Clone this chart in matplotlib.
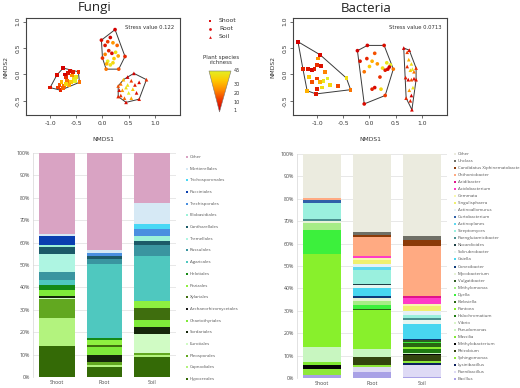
import matplotlib
matplotlib.use('Agg')
import matplotlib.pyplot as plt
import numpy as np
from matplotlib.colors import LinearSegmentedColormap
from matplotlib.patches import Polygon

# ---- NMDS data: (NMDS1, NMDS2, plant species richness) per sample ----
fungi_shoot = [(-1.0, -0.25, 5), (-0.87, -0.01, 3), (-0.75, 0.12, 1), (-0.46, 0.05, 10), (-0.44, -0.15, 20),
               (-0.80, -0.30, 8), (-0.82, -0.20, 15), (-0.78, -0.15, 30), (-0.74, -0.22, 20), (-0.70, -0.05, 10),
               (-0.66, 0.03, 5), (-0.62, 0.06, 3), (-0.58, -0.02, 25), (-0.55, -0.08, 40), (-0.52, -0.12, 45),
               (-0.60, -0.15, 35), (-0.68, -0.12, 20), (-0.72, 0.0, 1), (-0.85, -0.25, 12), (-0.64, -0.20, 28),
               (-0.50, -0.05, 42), (-0.56, 0.04, 6), (-0.76, -0.26, 18), (-0.70, -0.18, 38)]
fungi_root = [(-0.02, 0.65, 3), (0.24, 0.85, 1), (0.43, 0.34, 8), (0.31, 0.10, 15), (0.07, 0.10, 20),
              (0.0, 0.31, 10), (0.05, 0.55, 5), (0.10, 0.62, 12), (0.15, 0.70, 2), (0.20, 0.60, 25),
              (0.12, 0.45, 8), (0.18, 0.40, 3), (0.25, 0.42, 40), (0.22, 0.30, 35), (0.10, 0.25, 45),
              (0.08, 0.20, 30), (0.15, 0.18, 42), (0.28, 0.55, 18), (0.05, 0.38, 22), (0.20, 0.22, 38),
              (0.30, 0.35, 28)]
fungi_soil = [(0.60, 0.02, 1), (0.84, -0.10, 10), (0.70, -0.47, 5), (0.45, -0.53, 3), (0.30, -0.42, 8),
              (0.30, -0.22, 15), (0.35, -0.18, 20), (0.40, -0.10, 30), (0.48, -0.05, 1), (0.55, -0.12, 12),
              (0.62, -0.20, 6), (0.70, -0.15, 2), (0.45, -0.25, 40), (0.38, -0.30, 25), (0.50, -0.35, 45),
              (0.58, -0.28, 35), (0.35, -0.40, 10), (0.42, -0.45, 18), (0.65, -0.35, 4), (0.55, -0.45, 28),
              (0.48, -0.20, 42), (0.32, -0.30, 3)]

bact_shoot = [(-1.365, 0.62, 1), (-0.94, 0.37, 3), (-0.44, -0.07, 40), (-0.36, -0.29, 20), (-1.02, -0.37, 5),
              (-1.19, -0.31, 30), (-1.27, 0.10, 8), (-1.10, 0.08, 2), (-1.05, 0.10, 6), (-1.00, 0.18, 10),
              (-0.92, 0.16, 4), (-0.98, 0.30, 25), (-1.15, -0.05, 35), (-1.10, -0.15, 15), (-1.00, -0.08, 12),
              (-0.95, -0.15, 30), (-0.88, -0.12, 42), (-0.80, -0.08, 45), (-0.75, -0.20, 38), (-0.60, -0.22, 14),
              (-1.00, -0.28, 7), (-0.90, -0.25, 40), (-1.18, 0.10, 5), (-0.85, 0.05, 22)]
bact_root = [(-0.23, 0.45, 1), (-0.04, 0.55, 2), (0.28, 0.55, 4), (0.455, 0.10, 20), (0.30, -0.40, 12),
             (-0.10, -0.56, 3), (-0.18, 0.25, 5), (-0.05, 0.30, 8), (0.10, 0.40, 15), (0.05, 0.25, 30),
             (0.15, 0.20, 25), (0.25, 0.12, 40), (0.30, 0.08, 6), (0.35, 0.10, 2), (0.40, 0.18, 45),
             (0.33, 0.22, 42), (0.00, 0.15, 35), (-0.10, 0.05, 20), (0.20, -0.05, 10), (0.10, -0.25, 3),
             (0.05, -0.28, 7), (0.22, -0.28, 38), (0.38, 0.14, 1)]
bact_soil = [(0.654, 0.50, 1), (0.76, 0.46, 3), (0.89, 0.12, 10), (0.89, -0.10, 5), (0.81, -0.67, 2),
             (0.70, -0.45, 8), (0.69, -0.06, 6), (0.72, 0.42, 12), (0.75, 0.28, 30), (0.80, 0.20, 40),
             (0.82, 0.10, 45), (0.85, 0.05, 20), (0.78, 0.08, 35), (0.74, -0.10, 2), (0.80, -0.10, 15),
             (0.85, -0.08, 4), (0.76, -0.30, 25), (0.80, -0.40, 1), (0.78, -0.50, 7), (0.83, -0.25, 42),
             (0.72, 0.15, 9)]

fungi_stress = 0.122
bact_stress = 0.0713
richness_ticks = [1, 10, 20, 30, 45]

# ---- relative abundance (%), columns = Shoot, Root, Soil; listed bottom -> top ----
compartments = ['Shoot', 'Root', 'Soil']

fungi_taxa = ['Hypocreales', 'Capnodiales', 'Pleosporales', 'Eurotiales', 'Sordariales', 'Chaetothyriales',
              'Archaeorhizomycetales', 'Xylariales', 'Pezizales', 'Helotiales', 'Agaricales', 'Russulales',
              'Tremellales', 'Cantharellales', 'Filobasidiales', 'Trechisporales', 'Pucciniales',
              'Trichosporonales', 'Mortierellales', 'Other']
fungi_colors = ['#346a06', '#b3f37e', '#62a820', '#d0fbc4', '#15260a', '#7fea3a',
                '#1a1a1a', '#3f6e0e', '#8ef040', '#158a15', '#4fc8bf', '#3a95a0',
                '#aef5e2', '#1c5a68', '#9cf2d8', '#4a8fe0', '#0a3fb0',
                '#48d8f5', '#d6e9f5', '#d9a3c3']
fungi_values = [[14, 4.5, 9], [12.5, 1, 1], [8.3, 1, 0.5], [0.5, 0, 8.5], [0.9, 3.5, 3.5], [2.6, 3.5, 3],
                [0, 0, 0], [0, 1, 5.5], [0, 2, 3], [2.2, 1, 0], [2.5, 33, 20], [3.5, 2, 5],
                [8, 0, 0], [3, 1.5, 1.5], [1, 0, 2.5], [0, 1.5, 3], [4, 0, 0],
                [0, 0, 2.5], [1, 1, 9], [36, 43.5, 22.5]]

bact_taxa = ['Bacillus', 'Paenibacillus', 'Lysinibacillus', 'Sphingomonas', 'Rhizobium', 'Methylobacterium',
             'Massilia', 'Pseudomonas', 'Vibrio', 'Halochromatium', 'Pantoea', 'Klebsiella', 'Dyella',
             'Methylomonas', 'Vulgatibacter', 'Mycobacterium', 'Conexibacter', 'Gaiella', 'Solirubrobacter',
             'Nocardioides', 'Paenglutamicibacter', 'Streptomyces', 'Actinoplanes', 'Curtobacterium',
             'Actinoallomurus', 'Singulisphaera', 'Gemmata', 'Acidobacterium', 'Aridibacter',
             'Chthoniobacter', 'Candidatus Xiphinematobacter', 'Unclass', 'Other']
bact_colors = ['#a9a1e6', '#dedaf5', '#0b1f5c', '#8ee83a', '#33450f', '#050505',
               '#7fe832', '#c8f6c0', '#d9f5c8', '#1f7a12', '#88f02c', '#2a6612', '#3cf03c',
               '#a6ec86', '#2f5e22', '#e6f2d6', '#0d3a7a', '#48d6f0', '#e8f6f0',
               '#1e3f45', '#4a9090', '#9af0de', '#5fd8f0', '#3060a8',
               '#e5f1f7', '#f0f070', '#f8f8b0', '#ff3cc8', '#e0148c',
               '#ffaa82', '#8b3a08', '#6f6f66', '#ebebdf']
bact_values = [[1.5, 2.5, 0.5], [0, 2.5, 5.5], [0, 0, 0.8], [2.5, 1, 0.7], [0, 3.5, 2.8], [2, 0, 0.4],
               [1, 0, 0], [7, 3.5, 0.3], [0, 0, 0], [0, 0, 2], [41.5, 17.5, 1], [0, 0.5, 1.5], [10.5, 1.5, 0.5],
               [3, 2, 0], [0, 0, 1], [1, 1, 0], [0, 1, 0.5], [0, 3.5, 6.5], [0, 1.5, 2],
               [0, 0.5, 0], [1, 0, 1], [7, 6, 1], [0, 1.5, 0], [1.5, 0, 0],
               [0, 1.5, 2], [0, 1.5, 2], [0, 1, 1], [0, 1, 2.5], [0, 0, 1],
               [1, 8.5, 22.5], [0, 1, 2.5], [0, 1, 2], [19.5, 35, 36.5]]

W, H = 520, 388
fig = plt.figure(figsize=(W / 100, H / 100), dpi=100)
rich_cmap = LinearSegmentedColormap.from_list('rich', ['#d40000', '#f03a00', '#ff8a00', '#ffc800', '#e4ee24'])


def px_axes(l, t, r, b):
    return fig.add_axes([l / W, 1 - b / H, (r - l) / W, (b - t) / H])


def convex_hull(pts):
    pts = sorted(map(tuple, pts))

    def cross(o, a, b):
        return (a[0] - o[0]) * (b[1] - o[1]) - (a[1] - o[1]) * (b[0] - o[0])
    lower, upper = [], []
    for p in pts:
        while len(lower) >= 2 and cross(lower[-2], lower[-1], p) <= 0:
            lower.pop()
        lower.append(p)
    for p in reversed(pts):
        while len(upper) >= 2 and cross(upper[-2], upper[-1], p) <= 0:
            upper.pop()
        upper.append(p)
    return np.array(lower[:-1] + upper[:-1])


def nmds(ax, groups, stress):
    for pts, marker in groups:
        arr = np.array(pts, dtype=float)
        ax.add_patch(Polygon(convex_hull(arr[:, :2]), closed=True, fill=False, ec='#3a3a3a', lw=0.7))
        ax.scatter(arr[:, 0], arr[:, 1], c=arr[:, 2], cmap=rich_cmap, vmin=1, vmax=45,
                   s=7, marker=marker, linewidths=0, zorder=3)
    ax.set_xlim(-1.46, 1.48)
    ax.set_ylim(-0.77, 1.07)
    ax.set_xticks([-1.0, -0.5, 0.0, 0.5, 1.0])
    ax.set_yticks([-0.5, 0.0, 0.5, 1.0])
    ax.set_xticklabels(['%.1f' % v for v in ax.get_xticks()])
    ax.set_yticklabels(['%.1f' % v for v in ax.get_yticks()], rotation=90, va='center')
    ax.tick_params(labelsize=4.3, length=2, width=0.5, colors='#333333', pad=2)
    for s in ax.spines.values():
        s.set_color('#444444')
        s.set_linewidth(0.8)
    ax.set_xlabel('NMDS1', fontsize=4.3, color='#333333', labelpad=8)
    ax.set_ylabel('NMDS2', fontsize=4.3, color='#333333', labelpad=5)
    ax.text(0.965, 0.905, 'Stress value %s' % stress, transform=ax.transAxes, ha='right', va='center',
            fontsize=3.8, color='#333333')


def stacked(ax, taxa, colors, values, width):
    x = np.arange(len(compartments))
    bottom = np.zeros(len(compartments))
    for name, col, v in zip(taxa, colors, values):
        v = np.array(v, dtype=float)
        ax.bar(x, v, width, bottom=bottom, color=col, linewidth=0, label=name, zorder=2)
        bottom += v
    ax.set_xlim(-0.5, 2.5)
    ax.set_ylim(0, 100)
    ax.set_yticks(np.arange(0, 101, 10))
    ax.set_yticklabels(['%d%%' % v for v in np.arange(0, 101, 10)])
    ax.set_xticks(x)
    ax.set_xticklabels(compartments)
    ax.grid(axis='y', color='#dedede', lw=0.5, zorder=0)
    ax.tick_params(length=0, labelsize=3.8, colors='#444444', pad=2)
    for side in ['top', 'right', 'bottom']:
        ax.spines[side].set_visible(False)
    ax.spines['left'].set_color('#d6d6d6')
    ax.spines['left'].set_linewidth(0.5)
    for lab in ax.get_xticklabels() + ax.get_yticklabels():
        lab.set_family('Open Sans')


ax1 = px_axes(26, 18, 180, 115)
nmds(ax1, [(fungi_shoot, 's'), (fungi_root, 'o'), (fungi_soil, '^')], fungi_stress)
ax2 = px_axes(293, 18, 447, 115)
nmds(ax2, [(bact_shoot, 's'), (bact_root, 'o'), (bact_soil, '^')], bact_stress)

ax3 = px_axes(33, 153, 176, 377)
stacked(ax3, fungi_taxa, fungi_colors, fungi_values, 0.75)
ax4 = px_axes(297, 154, 447, 378)
stacked(ax4, bact_taxa, bact_colors, bact_values, 0.76)

for txt, xc in [('Fungi', 95), ('Bacteria', 366)]:
    fig.text(xc / W, 1 - 8 / H, txt, ha='center', va='center', fontsize=9.5, family='Open Sans', color='#222222')

# overlay in pixel coordinates for the legends
ov = fig.add_axes([0, 0, 1, 1])
ov.set_xlim(0, W)
ov.set_ylim(H, 0)
ov.axis('off')

for i, (lab, mk) in enumerate(zip(compartments, ['s', 'o', '^'])):
    y = 21 + i * 8
    ov.scatter([210], [y], s=4, marker=mk, color='#dd1111', linewidths=0)
    ov.text(219, y, lab, fontsize=4.4, va='center', color='#333333')
ov.text(221, 60, 'Plant species\nrichness', fontsize=4, ha='center', va='center', color='#333333',
        linespacing=1.1)

top_px, bot_px = 71, 112
tri = Polygon([[209, top_px], [231, top_px], [219.5, bot_px]], closed=True, fc='none', ec='#777777', lw=0.4)
grad = np.linspace(45, -2, 100).reshape(-1, 1)
im = ov.imshow(grad, cmap=rich_cmap, vmin=1, vmax=45, extent=[209, 231, bot_px, top_px], aspect='auto')
ov.add_patch(tri)
im.set_clip_path(tri)
ov.set_xlim(0, W)
ov.set_ylim(H, 0)
for v in richness_ticks:
    y = 110 - (v - 1) / 44 * 39
    ov.text(234, y, str(v), fontsize=3.6, va='center', color='#333333')


def bar_legend(taxa, colors, x, y0, y1):
    names = taxa[::-1]
    cols = colors[::-1]
    ys = np.linspace(y0, y1, len(names))
    for name, col, y in zip(names, cols, ys):
        ov.scatter([x], [y], s=2.5, marker='s', color=col, linewidths=0)
        ov.text(x + 3, y, name, fontsize=3.2, va='center', color='#555555', family='Open Sans')


bar_legend(fungi_taxa, fungi_colors, 187, 157, 379)
bar_legend(bact_taxa, bact_colors, 455, 154, 379)

fig.savefig('out.png', dpi=100)
